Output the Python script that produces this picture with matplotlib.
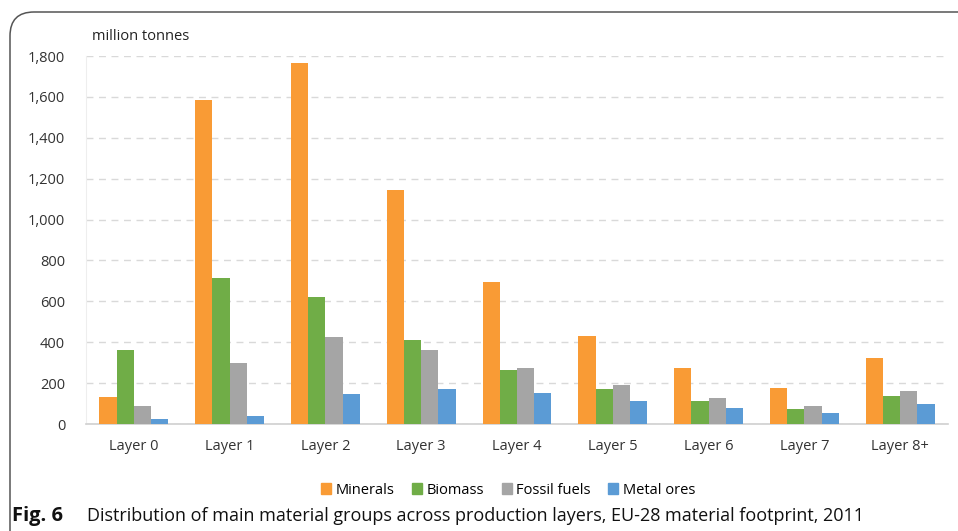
import numpy as np
import matplotlib
matplotlib.use('Agg')
import matplotlib.pyplot as plt
from matplotlib.patches import FancyBboxPatch, Patch

plt.rcParams['font.family'] = ['Open Sans', 'DejaVu Sans']

layers = ['Layer 0', 'Layer 1', 'Layer 2', 'Layer 3', 'Layer 4',
          'Layer 5', 'Layer 6', 'Layer 7', 'Layer 8+']
minerals = [133, 1584, 1765, 1147, 694, 429, 272, 176, 324]
biomass = [362, 714, 621, 409, 266, 171, 111, 75, 138]
fossil_fuels = [86, 297, 424, 362, 272, 192, 129, 86, 161]
metal_ores = [26, 41, 145, 173, 150, 111, 80, 52, 99]

series = [('Minerals', minerals, '#F99B35'),
          ('Biomass', biomass, '#70AD47'),
          ('Fossil fuels', fossil_fuels, '#A5A5A5'),
          ('Metal ores', metal_ores, '#5B9BD5')]

fig = plt.figure(figsize=(9.58, 5.31), dpi=100)

# rounded frame, running off the right and bottom edges
frame = FancyBboxPatch((10 / 958, -0.2), 1.2, 1.2 - 12 / 531,
                       boxstyle='round,pad=0,rounding_size=0.025',
                       transform=fig.transFigure, facecolor='none',
                       edgecolor='#555555', linewidth=1.1, mutation_aspect=958 / 531)
fig.patches.append(frame)

ax = fig.add_axes([86 / 958, 1 - 424 / 531, (948 - 86) / 958, (424 - 56) / 531])

x = np.arange(len(layers))
w = 0.18
for i, (name, vals, col) in enumerate(series):
    ax.bar(x + (i - 1.5) * w, vals, w, color=col, label=name, zorder=3)

ax.set_xlim(-0.5, len(layers) - 0.5)
ax.set_ylim(0, 1800)
ax.set_yticks(range(0, 1801, 200))
ax.set_yticklabels([f'{v:,}' for v in range(0, 1801, 200)])
ax.set_xticks(x)
ax.set_xticklabels(layers)
ax.tick_params(axis='both', length=0, labelsize=10.5, colors='#333333')
ax.tick_params(axis='y', pad=15)
ax.tick_params(axis='x', pad=11)
ax.yaxis.grid(True, linestyle=(0, (5, 4)), color='#D9D9D9', linewidth=1, zorder=0)
for s in ['top', 'right']:
    ax.spines[s].set_visible(False)
ax.spines['left'].set_color('#EEEEEE')
ax.spines['bottom'].set_color('#D0D0D0')
ax.spines['bottom'].set_linewidth(1.2)

fig.text(92 / 958, 1 - 36 / 531, 'million tonnes', fontsize=10.5, color='#222222',
         va='center', ha='left')

handles = [Patch(color=c, label=n) for n, _, c in series]
fig.legend(handles=handles, loc='center', bbox_to_anchor=(508 / 958, 1 - 490 / 531),
           ncol=4, frameon=False, fontsize=10.5, handlelength=0.7, handleheight=0.7,
           handletextpad=0.3, columnspacing=1.2)

fig.text(12 / 958, 1 - 516 / 531, 'Fig. 6', fontsize=14.5, fontweight='bold',
         va='center', ha='left', color='#111111')
fig.text(87 / 958, 1 - 516 / 531,
         'Distribution of main material groups across production layers, EU-28 material footprint, 2011',
         fontsize=13, va='center', ha='left', color='#111111')

plt.savefig('out.png', dpi=100)
